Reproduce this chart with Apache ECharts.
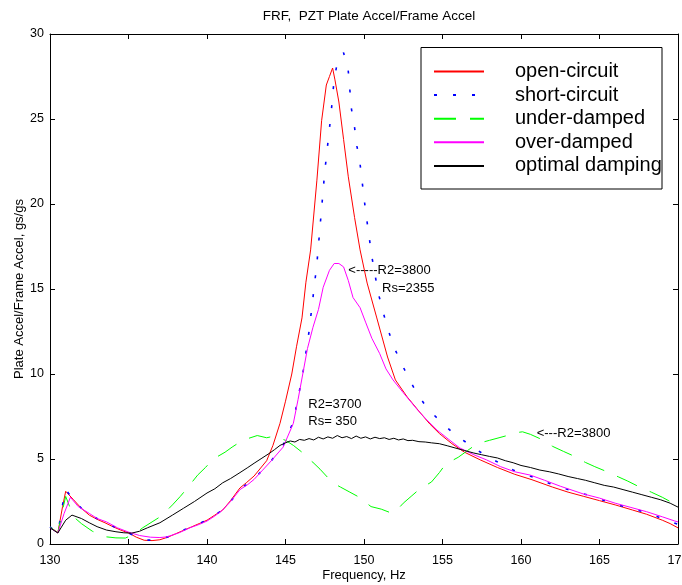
<!DOCTYPE html>
<html><head><meta charset="utf-8">
<script src="https://cdn.jsdelivr.net/npm/echarts@6/dist/echarts.min.js"></script>
<style>html,body{margin:0;padding:0;background:#fff}#c{width:682px;height:585px}</style>
</head><body><div id="c"></div>
<script>
// ---- data (frequency Hz, ratio gs/gs) ----
const seriesNames = ['open-circuit','short-circuit','under-damped','over-damped','optimal damping'];
const xTicks = [130,135,140,145,150,155,160,165,170];
const yTicks = [0,5,10,15,20,25,30];

const openCircuit = [[130,1.0],[130.3,0.8],[130.5,0.65],[130.8,2.2],[131,3.1],[131.5,2.6],[132,2.1],[132.5,1.7],[133,1.45],[133.5,1.25],[134,1.02],[134.5,0.82],[135,0.65],[135.5,0.4],[136,0.22],[136.5,0.2],[137,0.25],[137.5,0.4],[138,0.6],[138.5,0.8],[139,1.0],[139.5,1.2],[140,1.4],[140.5,1.7],[141,2.0],[141.5,2.55],[142.1,3.3],[142.5,3.6],[143,4.0],[143.8,4.9],[144.2,5.8],[144.65,7.1],[145,8.4],[145.4,10.0],[145.7,11.6],[146.05,13.3],[146.3,15.4],[146.6,17.3],[147,21.4],[147.3,24.9],[147.6,27.0],[147.8,27.5],[148,28.0],[148.15,27.3],[148.4,26.0],[148.7,23.8],[149,21.6],[149.4,19.2],[149.75,17.3],[150.2,15.35],[150.8,13.35],[151.5,11.0],[152,9.65],[152.75,8.65],[153.6,7.7],[154.2,7.05],[154.8,6.5],[155.6,5.9],[156.4,5.4],[157.4,4.95],[158.5,4.5],[159.6,4.1],[160.7,3.78],[162,3.35],[163,3.05],[164,2.8],[165,2.55],[166,2.3],[167.1,2.0],[168,1.75],[169,1.4],[169.5,1.2],[170,0.95]];

const shortCircuit = [[130,1.0],[130.5,0.65],[130.8,2.3],[131,3.2],[131.5,2.6],[132,2.1],[132.5,1.75],[133,1.5],[133.5,1.28],[134,1.05],[134.5,0.85],[135,0.65],[135.5,0.42],[136,0.25],[136.5,0.22],[137,0.28],[137.5,0.42],[138,0.62],[138.5,0.82],[139,1.0],[139.5,1.2],[140,1.4],[140.5,1.7],[141,2.0],[141.5,2.5],[142.1,3.2],[143,3.85],[143.5,4.3],[144.1,4.9],[144.85,5.8],[145.5,7.2],[146.1,10.0],[146.5,12.5],[146.75,14.5],[147,16.5],[147.25,19.2],[147.5,21.9],[147.7,23.6],[147.9,25.3],[148.1,27.35],[148.3,28.3],[148.7,28.9],[149,27.8],[149.2,25.6],[149.4,24.5],[149.55,23.4],[149.75,22.35],[150.1,19.6],[150.5,16.9],[150.9,14.8],[151.2,13.7],[151.5,12.7],[151.9,11.6],[152.4,10.6],[152.9,9.65],[153.45,8.75],[154.1,7.9],[154.9,7.2],[155.7,6.5],[156.55,5.95],[157.5,5.35],[158.55,4.8],[159.5,4.35],[160.7,3.95],[162,3.5],[163,3.2],[164,2.95],[165,2.65],[166,2.35],[167,2.1],[168,1.85],[169,1.5],[170,1.15]];

const underDamped = [[130,1.0],[130.5,0.65],[130.8,2.0],[131,2.8],[131.5,1.6],[132,1.2],[132.7,0.75],[133.2,0.55],[133.6,0.42],[134.2,0.36],[134.8,0.35],[135.4,0.6],[135.9,0.95],[136.5,1.3],[137.1,1.65],[137.8,2.3],[138.3,2.8],[138.8,3.35],[139.4,4.05],[139.9,4.5],[140.4,5.0],[141.15,5.4],[141.6,5.7],[142.1,6.0],[142.6,6.2],[143.2,6.38],[143.8,6.25],[144.3,6.35],[144.7,6.2],[145,6.1],[145.5,5.8],[146.05,5.4],[146.4,5.05],[146.75,4.8],[147.2,4.4],[147.7,3.9],[148.1,3.55],[148.5,3.35],[149.1,3.05],[149.7,2.75],[150.1,2.45],[150.45,2.2],[151.1,2.05],[151.8,1.8],[152.2,2.1],[152.5,2.4],[153,2.8],[153.5,3.2],[154.3,3.65],[154.8,4.2],[155.2,4.7],[156,5.1],[156.6,5.5],[157.2,5.9],[158,6.1],[158.6,6.25],[159.2,6.4],[159.7,6.55],[160.1,6.6],[160.6,6.45],[161.2,6.2],[162,5.75],[162.7,5.45],[163.3,5.2],[164.1,4.8],[164.7,4.55],[165.35,4.3],[166.2,3.95],[166.8,3.7],[167.45,3.4],[168.3,3.05],[169,2.75],[169.7,2.4],[170,2.3]];

const overDamped = [[130,0.95],[130.5,0.65],[130.9,1.8],[131.3,2.75],[131.8,2.2],[132.5,1.8],[133,1.5],[133.6,1.3],[134.3,0.95],[135,0.7],[135.7,0.5],[136.4,0.4],[137,0.38],[137.45,0.42],[138.2,0.65],[138.9,0.95],[139.5,1.15],[140,1.35],[140.5,1.65],[141,2.0],[141.5,2.5],[142.1,3.2],[142.6,3.5],[143,3.8],[143.5,4.3],[144.1,4.9],[144.85,5.7],[145.5,7.1],[145.8,8.5],[146.1,10.0],[146.4,11.5],[146.75,12.75],[147.1,13.8],[147.4,15.1],[147.8,16.1],[148.1,16.5],[148.4,16.5],[148.7,16.3],[149,15.5],[149.3,14.5],[149.75,13.9],[150.1,13.05],[150.5,12.1],[151,11.2],[151.4,10.3],[151.85,9.65],[152.5,8.9],[153.4,7.9],[154,7.3],[154.65,6.7],[155.4,6.15],[156.1,5.65],[157,5.25],[157.8,4.95],[158.7,4.55],[159.6,4.25],[160.6,4.05],[161.5,3.75],[162.5,3.4],[163.95,2.95],[165,2.7],[166,2.4],[167,2.15],[168,1.9],[169,1.6],[169.8,1.35],[170,1.3]];

const optimalDamping = [[130,0.95],[130.5,0.65],[131,1.4],[131.4,1.7],[132,1.5],[132.5,1.25],[133,1.02],[133.6,0.82],[134.2,0.72],[134.7,0.66],[135.2,0.64],[135.7,0.75],[136.2,0.95],[137,1.25],[137.8,1.7],[138.5,2.1],[139.2,2.5],[140,3.0],[140.5,3.25],[141,3.6],[141.5,3.85],[142.1,4.2],[142.6,4.5],[143,4.75],[143.5,5.05],[144,5.35],[144.3,5.55],[144.65,5.8],[145,5.95],[145.3,6.06],[145.6,6.0],[145.9,6.15],[146.2,6.1],[146.5,6.2],[146.8,6.12],[147.1,6.28],[147.4,6.18],[147.7,6.3],[148,6.22],[148.3,6.38],[148.6,6.25],[148.9,6.32],[149.2,6.2],[149.5,6.35],[149.8,6.22],[150.1,6.3],[150.4,6.18],[150.7,6.28],[151,6.2],[151.3,6.25],[151.6,6.15],[151.9,6.22],[152.2,6.12],[152.5,6.18],[152.8,6.08],[153.1,6.1],[153.5,6.02],[153.9,6.0],[154.3,5.95],[154.8,5.9],[155.3,5.78],[155.8,5.65],[156.4,5.5],[157,5.35],[157.5,5.25],[158,5.15],[158.5,5.06],[159,4.9],[159.5,4.78],[160,4.62],[160.6,4.5],[161.2,4.35],[161.8,4.25],[162.4,4.12],[163,3.97],[163.6,3.85],[164.1,3.75],[164.7,3.6],[165.3,3.45],[165.9,3.35],[166.5,3.2],[167.1,3.05],[167.7,2.9],[168.3,2.75],[168.9,2.6],[169.5,2.4],[170,2.17]];

// annotations: text, frequency of left edge, value of middle
const annoTexts = ['<-----R2=3800','Rs=2355','R2=3700','Rs= 350','<---R2=3800'];
const annoFreq  = [149.0, 151.15, 146.45, 146.45, 161.0];
const annoVal   = [16.08, 15.04, 8.2, 7.2, 6.53];

// ---- chart ----
const FONT = '"Liberation Sans", Arial, Helvetica, sans-serif';
const chart = echarts.init(document.getElementById('c'), null, {renderer:'canvas'});

function boxAxis(extra){
  return Object.assign({
    type:'value',
    axisLine:{show:true,onZero:false,lineStyle:{color:'#000',width:1}},
    axisTick:{show:true,inside:true,length:5,lineStyle:{color:'#000',width:1}},
    splitLine:{show:false},
    axisLabel:{show:false}
  }, extra);
}
const labelStyle = {show:true,color:'#000',fontSize:12.5,fontFamily:FONT};

const colors = ['#ff0000','#0000ff','#00ff00','#ff00ff','#000000'];
const dashes = ['solid',[3,16],[22,14],'solid','solid'];
const datas = [openCircuit, shortCircuit, underDamped, overDamped, optimalDamping];

chart.setOption({
  animation:false,
  backgroundColor:'#fff',
  title:{text:'FRF,  PZT Plate Accel/Frame Accel', left:364, textAlign:'center', top:4,
    textStyle:{fontSize:13.5,fontWeight:'normal',color:'#000',fontFamily:FONT}},
  grid:{left:50,right:4,top:34,bottom:41,containLabel:false,outerBoundsMode:'none'},
  xAxis:[
    boxAxis({min:xTicks[0],max:xTicks[xTicks.length-1],interval:5,position:'bottom',
      axisLabel:Object.assign({margin:10},labelStyle),
      name:'Frequency, Hz',nameLocation:'middle',nameGap:25,nameMoveOverlap:false,
      nameTextStyle:{color:'#000',fontSize:13,fontFamily:FONT}}),
    boxAxis({min:xTicks[0],max:xTicks[xTicks.length-1],interval:5,position:'top'})
  ],
  yAxis:[
    boxAxis({min:yTicks[0],max:yTicks[yTicks.length-1],interval:5,position:'left',
      axisLabel:Object.assign({margin:6},labelStyle),
      name:'Plate Accel/Frame Accel, gs/gs',nameLocation:'middle',nameGap:24,nameMoveOverlap:false,
      nameTextStyle:{color:'#000',fontSize:13,fontFamily:FONT}}),
    boxAxis({min:yTicks[0],max:yTicks[yTicks.length-1],interval:5,position:'right'})
  ],
  legend:{
    orient:'vertical', left:433, top:61.5, padding:0,
    itemWidth:50, itemHeight:12, itemGap:3.6, selectedMode:false,
    data:seriesNames,
    itemStyle:{opacity:0, borderWidth:0},
    textStyle:{fontSize:20,lineHeight:20,color:'#000',fontFamily:FONT,padding:[0,0,0,26]}
  },
  series: seriesNames.map((n,i)=>({
    name:n, type:'line', data:datas[i], symbol:'none', showSymbol:false,
    xAxisIndex:0, yAxisIndex:0, z: 2+i,
    lineStyle:{color:colors[i],width: i===1?1.6:1,type:dashes[i]},
    itemStyle:{color:colors[i]}
  }))
});

const gfx = [{
  type:'rect', shape:{x:421,y:47.5,width:241,height:141.5},
  style:{fill:'none',stroke:'#000',lineWidth:1}, z:100
}];
annoTexts.forEach((t,i)=>{
  const p = chart.convertToPixel({xAxisIndex:0,yAxisIndex:0},[annoFreq[i],annoVal[i]]);
  gfx.push({type:'text', x:p[0], y:p[1], z:100,
    style:{text:t, fill:'#000', fontSize:13, fontFamily:FONT, align:'left', verticalAlign:'middle'}});
});
chart.setOption({graphic:gfx});
</script></body></html>
